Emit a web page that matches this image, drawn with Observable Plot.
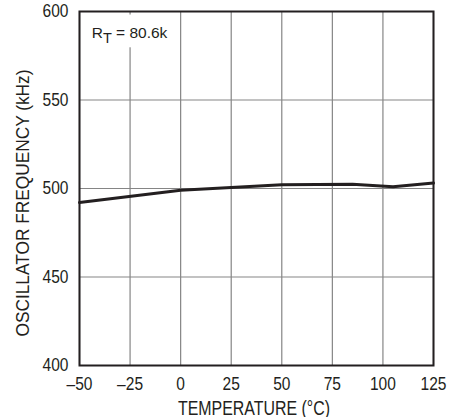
<!DOCTYPE html>
<html>
<head>
<meta charset="utf-8">
<script src="https://cdn.jsdelivr.net/npm/d3@7"></script>
<script src="https://cdn.jsdelivr.net/npm/@observablehq/plot@0.6"></script>
<style>
  html, body { margin: 0; padding: 0; background: #fff; }
  #chart svg { display: block; }
</style>
</head>
<body>
<div id="chart"></div>
<script>
const temperatures = [-50, 0, 25, 50, 85, 105, 125];
const frequencies = [492.1, 499, 500.5, 502.1, 502.4, 501, 503.1];
const xTicks = [-50, -25, 0, 25, 50, 75, 100, 125];
const yTicks = [400, 450, 500, 550, 600];
const xTitle = "TEMPERATURE (°C)";
const yTitle = "OSCILLATOR FREQUENCY (kHz)";
const annotationParts = ["R", "T", " = 80.6k"];
const annotationBox = [{ x1: -47, x2: -13, y1: 579.5, y2: 598 }];

const data = temperatures.map((t, i) => ({ t, f: frequencies[i] }));
const fontFamily = '"Liberation Sans", Arial, sans-serif';
const W = 449, H = 417, ML = 79, MR = 16, MT = 11, MB = 52;
const ink = "#231f20";

const plot = Plot.plot({
  width: W,
  height: H,
  marginLeft: ML,
  marginRight: MR,
  marginTop: MT,
  marginBottom: MB,
  style: { fontFamily, fontSize: "18.5px", color: ink, background: "#fff" },
  x: { domain: [-50, 125] },
  y: { domain: [400, 600] },
  marks: [
    Plot.gridX(xTicks, { stroke: "#858585", strokeOpacity: 1, strokeWidth: 1.2 }),
    Plot.gridY(yTicks, { stroke: "#858585", strokeOpacity: 1, strokeWidth: 1.2 }),
    Plot.rect(annotationBox, { x1: "x1", x2: "x2", y1: "y1", y2: "y2", fill: "#fff" }),
    Plot.axisX(xTicks, {
      tickSize: 0, tickPadding: 11, fontSize: 18.5,
      tickFormat: d => (d < 0 ? "\u2013" + Math.abs(d) : String(d)),
      label: null
    }),
    Plot.axisY(yTicks, { tickSize: 0, tickPadding: 11, fontSize: 18.5, label: null }),
    Plot.line(data, { x: "t", y: "f", stroke: ink, strokeWidth: 3, strokeLinejoin: "round" }),
    Plot.frame({ stroke: ink, strokeWidth: 2 })
  ]
});

document.getElementById("chart").appendChild(plot);

// condense tick labels horizontally to mimic a condensed face
plot.querySelectorAll("text").forEach(t => {
  const L = t.getComputedTextLength();
  if (L > 0) {
    t.setAttribute("textLength", (L * 0.84).toFixed(2));
    t.setAttribute("lengthAdjust", "spacingAndGlyphs");
  }
});

const svg = d3.select(plot);
const xs = plot.scale("x"), ys = plot.scale("y");

// axis titles
svg.append("text")
  .attr("x", (ML + (W - MR)) / 2 - 2).attr("y", 414.5)
  .attr("text-anchor", "middle").attr("font-size", 19.5).attr("fill", ink)
  .attr("textLength", 152).attr("lengthAdjust", "spacingAndGlyphs")
  .text(xTitle);
svg.append("text")
  .attr("transform", `translate(29,203) rotate(-90)`)
  .attr("text-anchor", "middle").attr("font-size", 19).attr("fill", ink)
  .attr("textLength", 267).attr("lengthAdjust", "spacingAndGlyphs")
  .text(yTitle);

// annotation with subscript
const ann = svg.append("text")
  .attr("x", xs.apply(-50) + 12.7).attr("y", ys.apply(600) + 27.3)
  .attr("text-anchor", "start").attr("font-size", 15.5).attr("fill", ink);
ann.append("tspan").text(annotationParts[0]);
ann.append("tspan").attr("dy", 5).attr("font-size", 14.5).text(annotationParts[1]);
ann.append("tspan").attr("dy", -5).text(annotationParts[2]);
</script>
</body>
</html>
